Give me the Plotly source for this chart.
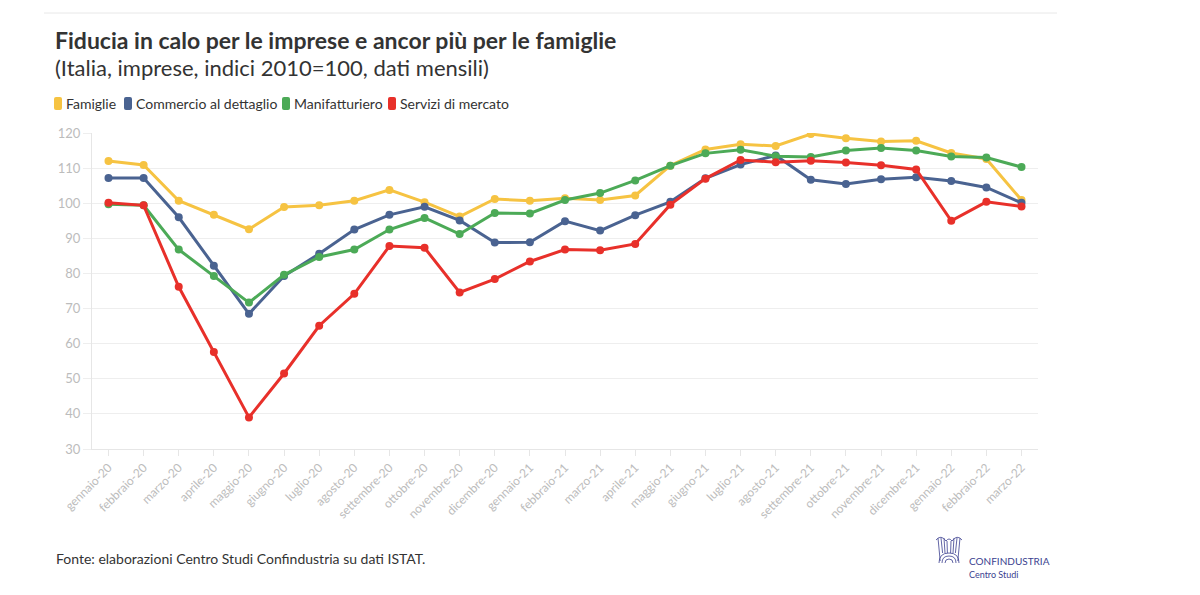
import plotly.graph_objects as go

months = ["gennaio-20","febbraio-20","marzo-20","aprile-20","maggio-20","giugno-20","luglio-20","agosto-20",
          "settembre-20","ottobre-20","novembre-20","dicembre-20","gennaio-21","febbraio-21","marzo-21","aprile-21",
          "maggio-21","giugno-21","luglio-21","agosto-21","settembre-21","ottobre-21","novembre-21","dicembre-21",
          "gennaio-22","febbraio-22","marzo-22"]

famiglie = [112.0,110.9,100.7,96.7,92.6,98.9,99.4,100.7,103.8,100.3,96.2,101.2,100.7,101.4,100.9,102.2,
            110.7,115.3,116.8,116.3,119.7,118.5,117.6,117.8,114.3,112.6,100.9]
commercio = [107.2,107.2,96.0,82.2,68.5,79.3,85.6,92.5,96.7,99.0,95.1,88.8,88.9,94.9,92.2,96.6,
             100.4,107.1,111.0,113.6,106.7,105.5,106.8,107.4,106.3,104.5,100.1]
manifatturiero = [99.7,99.4,86.8,79.3,71.7,79.6,84.7,86.8,92.5,95.8,91.2,97.2,97.1,100.9,102.9,106.5,
                  110.7,114.2,115.2,113.4,113.2,115.0,115.7,115.0,113.3,113.0,110.3]
servizi = [100.1,99.4,76.2,57.6,39.0,51.5,65.1,74.2,87.8,87.3,74.6,78.4,83.4,86.8,86.6,88.4,
           99.6,107.0,112.3,111.7,112.1,111.6,110.8,109.6,95.0,100.4,99.1]

series_names = ["Famiglie", "Commercio al dettaglio", "Manifatturiero", "Servizi di mercato"]
series_values = [famiglie, commercio, manifatturiero, servizi]
series_colors = ["#F6C342", "#4A6391", "#4CAA57", "#E8302A"]

# page-pixel geometry (the figure sits at an 8px body offset on the page)
OFF = 8
X0, X1, Y0, Y1 = 92, 1038, 133, 449
PW, PH = X1 - X0, Y1 - Y0
W, H = 1200, 595
L, T = X0 - OFF, Y0 - OFF
R, B = W - L - PW, H - T - PH

def px(x):
    return (x - X0) / PW

def py(y):
    return (Y1 - y) / PH

FONT = "Lato"
NAVY = "#3B3F8F"
fig = go.Figure()
for name, vals, col in zip(series_names, series_values, series_colors):
    fig.add_trace(go.Scatter(x=months, y=vals, mode="lines+markers", name=name,
                             line=dict(color=col, width=3), marker=dict(color=col, size=8),
                             showlegend=False))

fig.update_layout(
    width=W, height=H,
    paper_bgcolor="white", plot_bgcolor="white",
    margin=dict(l=L, r=R, t=T, b=B, autoexpand=False),
    font=dict(family=FONT, color="#333"),
    showlegend=False,
)

fig.update_xaxes(type="category", range=[-0.47, len(months) - 1 + 0.47],
                 showgrid=False, showline=True, linecolor="#e6e6e6", linewidth=1,
                 ticks="outside", ticklen=6, tickcolor="#e6e6e6", tickangle=-45, automargin=False,
                 tickfont=dict(size=12, color="#bcbcbc", family=FONT))
fig.update_yaxes(range=[30, 120], dtick=10, showgrid=True, gridcolor="#eeeeee", gridwidth=1,
                 showline=True, linecolor="#e6e6e6", linewidth=1, zeroline=False, automargin=False,
                 ticks="outside", ticklen=8, tickcolor="#eeeeee",
                 tickfont=dict(size=13, color="#bcbcbc", family=FONT))

# custom legend (rounded tall swatches + labels)
legend_x = [54, 124, 282, 388]
for lx, name, col in zip(legend_x, series_names, series_colors):
    x0, x1, y0, y1, r = lx, lx + 8, 97, 110, 2
    path = (f"M {px(x0+r)},{py(y0)} L {px(x1-r)},{py(y0)} Q {px(x1)},{py(y0)} {px(x1)},{py(y0+r)} "
            f"L {px(x1)},{py(y1-r)} Q {px(x1)},{py(y1)} {px(x1-r)},{py(y1)} "
            f"L {px(x0+r)},{py(y1)} Q {px(x0)},{py(y1)} {px(x0)},{py(y1-r)} "
            f"L {px(x0)},{py(y0+r)} Q {px(x0)},{py(y0)} {px(x0+r)},{py(y0)} Z")
    fig.add_shape(type="path", xref="paper", yref="paper", path=path,
                  fillcolor=col, line=dict(width=0))
    fig.add_annotation(text=name, xref="paper", yref="paper", x=px(lx + 10), y=py(103.5),
                       xanchor="left", yanchor="middle", showarrow=False,
                       font=dict(size=14, color="#333333", family=FONT))

fig.add_annotation(text="<b>Fiducia in calo per le imprese e ancor più per le famiglie</b>",
                   xref="paper", yref="paper", x=px(53), y=py(40), xanchor="left", yanchor="middle",
                   showarrow=False, font=dict(size=23, color="#333333", family=FONT))
fig.add_annotation(text="(Italia, imprese, indici 2010=100, dati mensili)",
                   xref="paper", yref="paper", x=px(53), y=py(67), xanchor="left", yanchor="middle",
                   showarrow=False, font=dict(size=22, color="#333333", family=FONT))
fig.add_annotation(text="Fonte: elaborazioni Centro Studi Confindustria su dati ISTAT.",
                   xref="paper", yref="paper", x=px(54), y=py(558), xanchor="left", yanchor="middle",
                   showarrow=False, font=dict(size=14, color="#333333", family=FONT))
fig.add_annotation(text="CONFINDUSTRIA", xref="paper", yref="paper", x=px(967), y=py(561),
                   xanchor="left", yanchor="middle", showarrow=False,
                   font=dict(size=10, color=NAVY, family=FONT))
fig.add_annotation(text="Centro Studi", xref="paper", yref="paper", x=px(967), y=py(574),
                   xanchor="left", yanchor="middle", showarrow=False,
                   font=dict(size=9, color=NAVY, family=FONT))

# simple eagle-like emblem outline
cx, base = 949, 563
for rad in (4, 7, 10):
    fig.add_shape(type="path", xref="paper", yref="paper",
                  path=(f"M {px(cx-rad)},{py(base)} Q {px(cx-rad)},{py(base-rad)} {px(cx)},{py(base-rad)} "
                        f"Q {px(cx+rad)},{py(base-rad)} {px(cx+rad)},{py(base)}"),
                  line=dict(color=NAVY, width=0.8))
for dx in (-11, -8, -5, -2, 2, 5, 8, 11):
    top = 538 if abs(dx) > 4 else 541
    fig.add_shape(type="line", xref="paper", yref="paper", x0=px(cx+dx), x1=px(cx+dx*0.8),
                  y0=py(top), y1=py(base - (10 if abs(dx) < 10 else 2)),
                  line=dict(color=NAVY, width=0.8))
fig.add_shape(type="path", xref="paper", yref="paper",
              path=(f"M {px(cx-13)},{py(540)} Q {px(cx-8)},{py(534)} {px(cx-3)},{py(541)} "
                    f"Q {px(cx)},{py(537)} {px(cx+3)},{py(541)} Q {px(cx+8)},{py(534)} {px(cx+13)},{py(540)}"),
              line=dict(color=NAVY, width=0.8))

fig.add_shape(type="line", xref="paper", yref="paper", x0=px(44), x1=px(1057), y0=py(13), y1=py(13),
              line=dict(color="#e8e8e8", width=1))

fig.write_html("out.html")
